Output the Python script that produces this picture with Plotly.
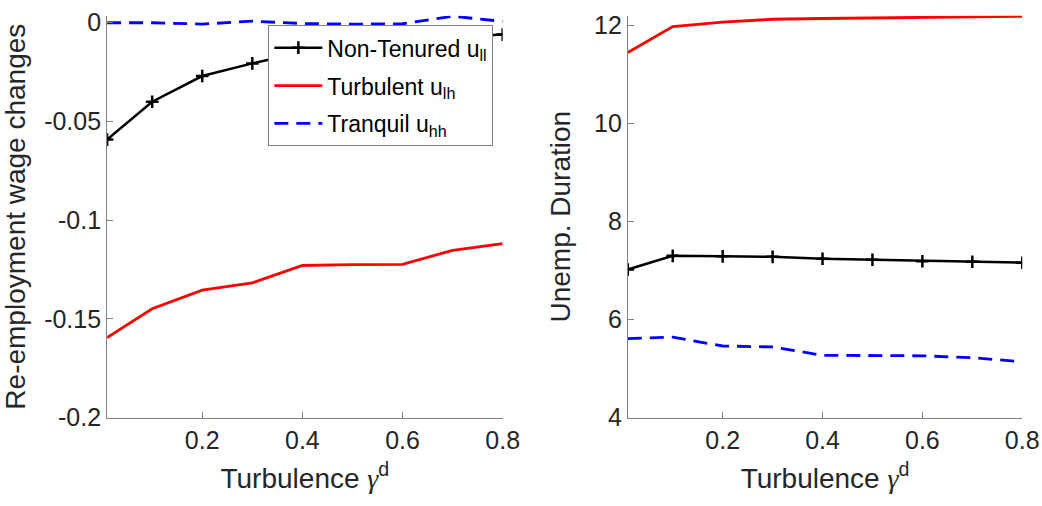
import plotly.graph_objects as go
from plotly.subplots import make_subplots

# turbulence grid
gamma_d = [0.01, 0.1, 0.2, 0.3, 0.4, 0.5, 0.6, 0.7, 0.8]

# re-employment wage changes (left panel)
wage_nontenured = [-0.0592, -0.0400, -0.0270, -0.0206, -0.0150, -0.0112, -0.0090, -0.0073, -0.0060]
wage_turbulent = [-0.1595, -0.1449, -0.1355, -0.1318, -0.1230, -0.1225, -0.1224, -0.1153, -0.1119]
wage_tranquil = [0.0000, 0.0000, -0.0007, 0.0008, -0.0004, -0.0007, -0.0005, 0.0033, 0.0007]

# unemployment duration (right panel)
dur_nontenured = [7.02, 7.30, 7.29, 7.28, 7.24, 7.22, 7.19, 7.18, 7.16]
dur_turbulent = [11.45, 11.98, 12.07, 12.13, 12.145, 12.16, 12.175, 12.185, 12.19]
dur_tranquil = [5.61, 5.64, 5.46, 5.44, 5.27, 5.27, 5.26, 5.22, 5.14]

xticks = [0.2, 0.4, 0.6, 0.8]
left_ticks = [0, -0.05, -0.1, -0.15, -0.2]
left_ticktext = ['0', '-0.05', '-0.1', '-0.15', '-0.2']
right_ticks = [4, 6, 8, 10, 12]

FONT = 'Liberation Sans, Arial, sans-serif'
AXCOL = '#808080'
TXTCOL = '#262626'

fig = make_subplots(rows=1, cols=2)

# left panel
fig.add_trace(go.Scatter(x=gamma_d, y=wage_nontenured, mode='lines+markers', name='Non-Tenured u<sub>ll</sub>',
                         legendgroup='a',
                         line=dict(color='black', width=2.5),
                         marker=dict(symbol='cross-thin', size=9, line=dict(color='black', width=2.5))),
              row=1, col=1)
fig.add_trace(go.Scatter(x=gamma_d, y=wage_turbulent, mode='lines', name='Turbulent u<sub>lh</sub>',
                         legendgroup='b',
                         line=dict(color='#ff0000', width=2.8)), row=1, col=1)
fig.add_trace(go.Scatter(x=gamma_d, y=wage_tranquil, mode='lines', name='Tranquil u<sub>hh</sub>',
                         legendgroup='c',
                         line=dict(color='#0000ff', width=2.8, dash='14px,8px')), row=1, col=1)

# right panel
fig.add_trace(go.Scatter(x=gamma_d, y=dur_nontenured, mode='lines+markers', showlegend=False,
                         line=dict(color='black', width=2.5),
                         marker=dict(symbol='cross-thin', size=9, line=dict(color='black', width=2.5))),
              row=1, col=2)
fig.add_trace(go.Scatter(x=gamma_d, y=dur_turbulent, mode='lines', showlegend=False,
                         line=dict(color='#ff0000', width=2.8)), row=1, col=2)
fig.add_trace(go.Scatter(x=gamma_d, y=dur_tranquil, mode='lines', showlegend=False,
                         line=dict(color='#0000ff', width=2.8, dash='14px,8px')), row=1, col=2)

axis_common = dict(showline=True, linecolor=AXCOL, linewidth=1, showgrid=False, zeroline=False,
                   ticks='inside', ticklen=6, tickcolor=AXCOL, tickwidth=1,
                   tickfont=dict(family=FONT, size=25, color=TXTCOL))

gamma_txt = '<span style="font-family:Liberation Serif"><i>γ</i></span>'
xtitle = dict(text='Turbulence ' + gamma_txt + '<sup>d</sup>', font=dict(family=FONT, size=28, color=TXTCOL))

fig.update_xaxes(axis_common, range=[0.01, 0.8], tickvals=xticks, ticktext=['0.2', '0.4', '0.6', '0.8'],
                 title=xtitle)
fig.update_xaxes(domain=[0.1045, 0.4904], row=1, col=1)
fig.update_xaxes(domain=[0.6125, 0.9973], row=1, col=2)

fig.update_yaxes(axis_common, domain=[0.1536, 0.9818])
fig.update_yaxes(range=[-0.2, 0.0035], tickvals=left_ticks, ticktext=left_ticktext,
                 title=dict(text='Re-employment wage changes', font=dict(family=FONT, size=28, color=TXTCOL)),
                 row=1, col=1)
fig.update_yaxes(range=[4, 12.2], tickvals=right_ticks,
                 title=dict(text='Unemp. Duration', font=dict(family=FONT, size=28, color=TXTCOL)),
                 row=1, col=2)

fig.update_layout(
    autosize=True,
    margin=dict(l=0, r=0, t=0, b=0),
    plot_bgcolor='white', paper_bgcolor='white',
    font=dict(family=FONT, color='black'),
    legend=dict(x=0.2618, y=0.9625, xanchor='left', yanchor='top',
                bordercolor=AXCOL, borderwidth=1, bgcolor='white',
                font=dict(family=FONT, size=23, color='black'),
                traceorder='grouped', tracegroupgap=5,
                itemwidth=48),
)

# fill the whole window, no page margin, no mode bar
fig.write_html("out.html",
               config=dict(displayModeBar=False, responsive=True),
               default_width='100vw', default_height='100vh',
               post_script="document.body.style.margin='0';document.body.style.overflow='hidden';")
